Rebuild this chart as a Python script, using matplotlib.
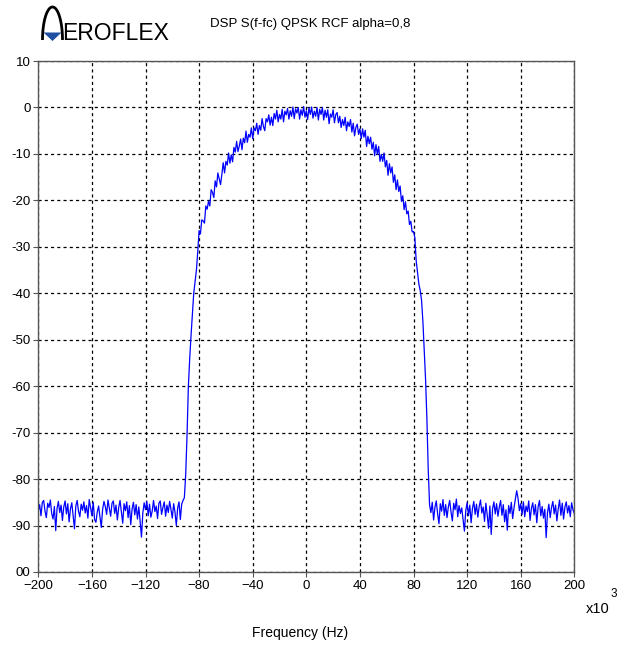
import numpy as np
import matplotlib.pyplot as plt
from matplotlib.patches import Polygon

# spectrum in dB, 1 kHz steps (frequencies in kHz)
left_start = -200
floor_left = [
    -86.8, -85.5, -87.9, -85.0, -84.6, -86.9, -88.3, -85.2, -86.1, -84.5,
    -87.4, -88.6, -85.9, -91.1, -86.3, -84.8, -87.2, -85.6, -88.9, -86.0,
    -84.7, -87.5, -85.3, -89.2, -86.4, -85.1, -87.8, -90.7, -85.8, -84.6,
    -86.9, -88.1, -85.4, -86.7, -84.9, -87.3, -85.7, -88.4, -84.4, -86.2,
    -87.9, -85.0, -88.7, -89.3, -87.1, -85.8, -88.2, -90.4, -86.5, -84.8,
    -85.9, -87.6, -84.5, -86.3, -88.0, -85.2, -84.7, -87.4, -85.6, -88.8,
    -86.1, -84.6, -87.0, -89.5, -85.3, -86.8, -84.9, -88.3, -85.7, -89.8,
    -86.4, -85.0, -87.7, -85.5, -88.6, -86.0, -89.1, -92.5, -87.3, -85.1,
    -86.6, -84.8, -87.9, -85.4, -88.2, -86.9, -84.6, -87.0, -85.8, -88.5,
    -85.2, -84.7, -87.6, -86.1, -84.9, -88.0, -85.6, -87.2, -84.8, -86.5,
    -88.4, -85.3, -87.1, -90.0, -86.2, -84.9, -88.7, -85.4, -84.6,
]

lobe_start = -91
main_lobe = [
    # rising edge, -91 .. -81
    -84.0, -79.0, -70.5, -60.0, -54.0, -49.0, -44.5, -40.0, -37.5, -35.0,
    -31.0,
    # -80 .. 80
    -26.5, -27.2, -24.2, -24.4, -24.9, -21.2, -21.9, -20.2, -21.2, -17.7,
    -18.3, -19.4, -15.8, -17.1, -14.1, -15.3, -16.6, -14.4, -11.9, -14.1,
    -11.6, -12.4, -9.8, -12.0, -10.2, -11.7, -8.6, -9.6, -7.3, -9.5,
    -8.3, -6.8, -9.1, -6.6, -7.6, -5.1, -7.5, -5.8, -6.4, -4.4,
    -6.7, -4.4, -5.0, -3.4, -5.8, -3.9, -4.9, -2.4, -4.1, -5.0,
    -2.4, -3.1, -1.6, -3.8, -2.1, -3.9, -1.3, -2.5, -0.6, -3.1,
    -1.5, -2.5, -0.4, -3.1, -0.8, -1.6, -0.2, -2.5, -0.7, -1.9,
    0.1, -2.4, -0.3, -1.2, 0.0, -2.5, -0.5, -1.7, 0.2, -2.1,
    -0.7, -2.6, -0.1, -1.5, 0.1, -2.3, -0.8, -1.9, 0.0, -2.7,
    -0.4, -1.5, 0.0, -2.7, -0.6, -2.1, -0.5, -3.5, -1.4, -2.1,
    -0.5, -3.3, -1.5, -1.1, -3.3, -1.9, -4.3, -2.6, -3.9, -2.1,
    -5.0, -3.1, -4.1, -2.6, -5.3, -3.4, -6.1, -4.3, -3.6, -5.8,
    -4.6, -6.7, -4.6, -6.4, -4.9, -8.4, -6.2, -7.8, -6.4, -9.0,
    -7.5, -10.4, -8.0, -10.1, -8.4, -11.6, -10.1, -11.6, -9.8, -12.8,
    -11.4, -14.6, -12.1, -14.1, -12.8, -16.1, -14.5, -17.7, -15.6, -18.1,
    -16.9, -20.2, -19.0, -22.0, -20.3, -22.9, -22.3, -25.2, -24.5, -26.8,
    -26.7,
    # falling edge, 81 .. 91
    -28.0, -33.0, -35.5, -38.0, -39.4, -41.5, -46.0, -52.5, -58.5, -67.0,
    -78.0,
]

right_start = 92
floor_right = [
    -85.6, -87.2, -85.0, -88.8, -86.1, -84.7, -87.5, -89.6, -85.3, -86.9,
    -84.4, -87.8, -85.5, -88.3, -86.0, -84.6, -87.1, -89.0, -85.2, -86.6,
    -84.3, -88.1, -85.7, -87.4, -86.2, -88.6, -91.2, -86.8, -85.1, -87.9,
    -85.6, -89.4, -86.3, -84.8, -87.6, -85.4, -88.2, -85.9, -84.5, -87.3,
    -86.0, -89.1, -85.2, -87.7, -90.6, -85.8, -91.9, -86.4, -84.9, -87.5,
    -85.3, -88.0, -86.1, -84.6, -87.8, -85.5, -89.2, -86.6, -91.0, -85.7,
    -87.4, -85.0, -88.5, -86.2, -84.4, -82.5, -84.1, -86.8, -85.3, -87.6,
    -84.9, -88.1, -85.8, -87.0, -84.7, -88.9, -86.3, -85.1, -87.7, -85.5,
    -89.4, -86.0, -84.6, -87.9, -85.9, -88.4, -86.5, -92.6, -87.2, -85.4,
    -88.3, -86.1, -84.8, -87.5, -85.6, -89.0, -86.4, -84.5, -87.8, -85.2,
    -88.6, -86.0, -84.9, -87.3, -85.7, -88.1, -85.1, -86.6, -87.4,
]

x_ticks = [-200, -160, -120, -80, -40, 0, 40, 80, 120, 160, 200]
y_ticks = [-100, -90, -80, -70, -60, -50, -40, -30, -20, -10, 0, 10]
y_tick_labels = ['00', '-90', '-80', '-70', '-60', '-50', '-40', '-30',
                 '-20', '-10', '0', '10']

plt.rcParams['font.family'] = ['Liberation Sans', 'DejaVu Sans']

segments = [(left_start, floor_left), (lobe_start, main_lobe), (right_start, floor_right)]
freq = np.concatenate([s + np.arange(len(v)) for s, v in segments])
level = np.concatenate([v for _, v in segments])

fig = plt.figure(figsize=(6.27, 6.48), dpi=100)
W, H = 627, 648
ax = fig.add_axes([38.3 / W, 1 - 572 / H, 536 / W, 511 / H])

ax.plot(freq, level, color='#0000ff', lw=0.9)

ax.set_xlim(-200, 200)
ax.set_ylim(-100, 10)
ax.set_xticks(x_ticks)
ax.set_yticks(y_ticks)
ax.set_yticklabels(y_tick_labels)
ax.grid(True, color='black', lw=0.9, linestyle=(0, (2.5, 2.5)))
ax.tick_params(direction='out', length=3.5, width=0.8, color='#555555',
               labelsize=9.5, pad=2)
for sp in ax.spines.values():
    sp.set_color('#555555')
    sp.set_linewidth(1.0)

# header, axis text and logo in pixel coordinates
deco = fig.add_axes([0, 0, 1, 1])
deco.set_xlim(0, W)
deco.set_ylim(H, 0)
deco.axis('off')

deco.text(310, 24, 'DSP S(f-fc) QPSK RCF alpha=0,8', ha='center', va='center',
          fontsize=9.5)
deco.text(300, 633, 'Frequency (Hz)', ha='center', va='center', fontsize=10)
deco.text(586, 609, 'x10', ha='left', va='center', fontsize=10.5)
deco.text(611, 594, '3', ha='left', va='center', fontsize=8.5)

th = np.linspace(-np.pi / 2, np.pi / 2, 80)
deco.plot(52.5 + 10 * np.sin(th), 40 - 33 * np.cos(th), color='black', lw=2.0,
          solid_capstyle='butt')
deco.add_patch(Polygon([[43.5, 32.5], [61.5, 32.5], [52.5, 41]], closed=True,
                       color='#1f4fa0', lw=0))
deco.text(62, 39.5, 'EROFLEX', ha='left', va='baseline', fontsize=16.5)

fig.savefig('out.png', dpi=100)
